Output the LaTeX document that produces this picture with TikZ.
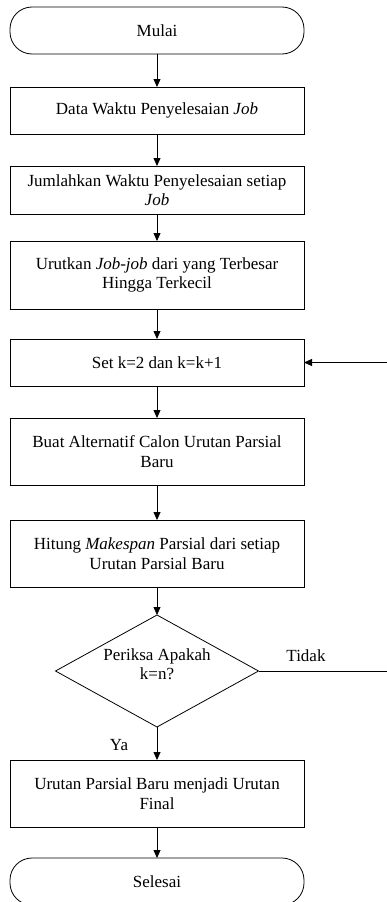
\documentclass[tikz,border=0pt]{standalone}
\usepackage{fontspec}
\setmainfont{Liberation Serif}
\usetikzlibrary{shapes.geometric,arrows.meta}
\begin{document}
\begin{tikzpicture}[x=1pt,y=-1pt,
  font=\fontsize{17}{19.5}\selectfont,
  every node/.style={inner sep=0pt, outer sep=0pt},
  box/.style={draw, line width=0.8pt, rectangle, minimum width=294pt, align=center},
  term/.style={draw, line width=0.8pt, rectangle, rounded corners=22pt, minimum width=294pt, minimum height=47pt},
  dec/.style={draw, line width=0.8pt, diamond, minimum width=203pt, minimum height=112pt},
  lbl/.style={align=center},
  conn/.style={line width=0.8pt, -{Triangle[length=8pt,width=7pt]}},
  plain/.style={line width=0.8pt}]
\useasboundingbox (0,0) rectangle (387,902);
\node[term] (mulai) at (157,30.5) {Mulai};
\node[box, minimum height=47pt] (data) at (157,110.5) {Data Waktu Penyelesaian \textit{Job}};
\node[box, minimum height=48pt] (jumlah) at (157,190) {Jumlahkan Waktu Penyelesaian setiap\\\textit{Job}};
\node[box, minimum height=68pt] (urut) at (157,275) {Urutkan \textit{Job-job} dari yang Terbesar\\Hingga Terkecil};
\node[box, minimum height=47pt] (set) at (157,362.5) {Set k=2 dan k=k+1};
\node[box, minimum height=67pt] (buat) at (157,451.5) {Buat Alternatif Calon Urutan Parsial\\Baru};
\node[box, minimum height=67pt] (hitung) at (157,553.5) {Hitung \textit{Makespan} Parsial dari setiap\\Urutan Parsial Baru};
\node[dec] (cek) at (157,671) {};
\node[lbl] (cektxt) at (157,664) {Periksa Apakah\\k=n?};
\node[box, minimum height=67pt] (final) at (157,793.5) {Urutan Parsial Baru menjadi Urutan\\Final};
\node[term] (selesai) at (157,881.5) {Selesai};
\node (tidak) at (306,656) {Tidak};
\node (ya) at (119,745) {Ya};
\coordinate (loopb) at (388,671);
\coordinate (loopt) at (388,362.5);
\draw[conn] (mulai) -- (data);
\draw[conn] (data) -- (jumlah);
\draw[conn] (jumlah) -- (urut);
\draw[conn] (urut) -- (set);
\draw[conn] (set) -- (buat);
\draw[conn] (buat) -- (hitung);
\draw[conn] (hitung) -- (cek);
\draw[conn] (cek) -- (final);
\draw[conn] (final) -- (selesai);
\draw[conn] (cek.east) -- (loopb) -- (loopt) -- (set.east);
\end{tikzpicture}
\end{document}
